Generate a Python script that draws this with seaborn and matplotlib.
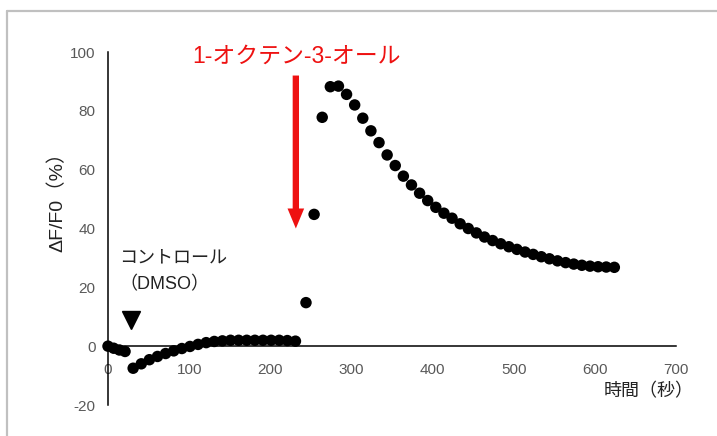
import numpy as np
import pandas as pd
import matplotlib
matplotlib.use("Agg")
import matplotlib.pyplot as plt
from matplotlib.lines import Line2D
import seaborn as sns

# ---- data ----
t_pre = [0, 7, 14, 21]
v_pre = [0.0, -0.7, -1.3, -1.8]

t_ctrl = [31, 41, 51, 61, 71, 81, 91, 101, 111, 121, 131, 141, 151, 161,
          171, 181, 191, 201, 211, 221, 231]
v_ctrl = [-7.5, -6.0, -4.6, -3.5, -2.5, -1.6, -0.8, -0.1, 0.6, 1.2, 1.6,
          1.8, 2.0, 2.0, 2.0, 2.0, 2.0, 2.0, 2.0, 1.9, 1.7]

t_resp = [244, 254, 264, 274, 284, 294, 304, 314, 324, 334, 344, 354, 364,
          374, 384, 394, 404, 414, 424, 434, 444, 454, 464, 474, 484, 494,
          504, 514, 524, 534, 544, 554, 564, 574, 584, 594, 604, 614, 624]
v_resp = [14.8, 44.8, 77.8, 88.2, 88.4, 85.6, 82.0, 77.5, 73.2, 69.2, 65.0,
          61.4, 57.8, 54.8, 52.0, 49.5, 47.2, 45.2, 43.5, 41.6, 40.0, 38.5,
          37.1, 35.9, 34.8, 33.8, 32.9, 32.0, 31.2, 30.4, 29.7, 29.0, 28.4,
          27.9, 27.5, 27.2, 27.0, 26.9, 26.8]

x_ticks = [0, 100, 200, 300, 400, 500, 600, 700]
y_ticks = [-20, 0, 20, 40, 60, 80, 100]

stim_label = "1-オクテン-3-オール"
ctrl_label1 = "コントロール"
ctrl_label2 = "（DMSO）"
x_label = "時間（秒）"
y_label = "ΔF/F0（%）"

df = pd.DataFrame({"time": t_pre + t_ctrl + t_resp,
                   "value": v_pre + v_ctrl + v_resp})

# ---- plotting ----
sns.set_theme(style="white")
plt.rcParams['font.family'] = ['Liberation Sans', 'Noto Sans CJK JP', 'DejaVu Sans']
plt.rcParams['axes.unicode_minus'] = False

fig = plt.figure(figsize=(7.17, 4.36), dpi=100)
ax = fig.add_axes([108/717, 1-405/436, (676-108)/717, (405-52)/436])

sns.scatterplot(data=df, x="time", y="value", ax=ax, color="black",
                s=68, edgecolor="none", legend=False, zorder=3, clip_on=False)

ax.set_xlim(0, 700)
ax.set_ylim(-20, 100)
ax.set_xticks(x_ticks)
ax.set_yticks(y_ticks)
ax.spines['top'].set_visible(False)
ax.spines['right'].set_visible(False)
ax.spines['bottom'].set_position(('data', 0))
for sp in ['left', 'bottom']:
    ax.spines[sp].set_color('black')
    ax.spines[sp].set_linewidth(1.1)
ax.tick_params(axis='both', direction='out', length=5, width=1.1,
               color='black', labelcolor='#595959', labelsize=11)
ax.tick_params(axis='x', pad=7)
ax.tick_params(axis='y', pad=4)
ax.set_xlabel("")
ax.set_ylabel("")

# axis labels
fig.text(649/717, 1-392/436, x_label, ha='center', va='center',
         fontsize=13, color='#222222')
fig.text(57/717, 1-197/436, y_label, ha='center', va='center',
         rotation=90, fontsize=14, color='#222222')

# stimulus annotation
ax.text(232, 98.5, stim_label, ha='center', va='center', fontsize=16.5,
        color='#ee1111')
ax.annotate("", xy=(231.5, 40), xytext=(231.5, 92),
            arrowprops=dict(arrowstyle="simple,head_width=1.0,head_length=1.2,tail_width=0.38",
                            color='#ee1111', lw=0, shrinkA=0, shrinkB=0))

# control annotation
ax.text(14, 30, ctrl_label1, ha='left', va='center', fontsize=13,
        color='#222222')
ax.text(14, 21, ctrl_label2, ha='left', va='center', fontsize=13,
        color='#222222')
ax.plot([28.5], [8.8], marker='v', markersize=13, color='black',
        linestyle='none', clip_on=False)

# gray border
fig.add_artist(Line2D([7/717, 1.0], [1-11/436, 1-11/436],
                      transform=fig.transFigure, color='#c0c0c0', lw=1.6))
fig.add_artist(Line2D([7/717, 7/717], [0, 1-11/436],
                      transform=fig.transFigure, color='#c0c0c0', lw=1.6))

fig.savefig("out.png", dpi=100)
